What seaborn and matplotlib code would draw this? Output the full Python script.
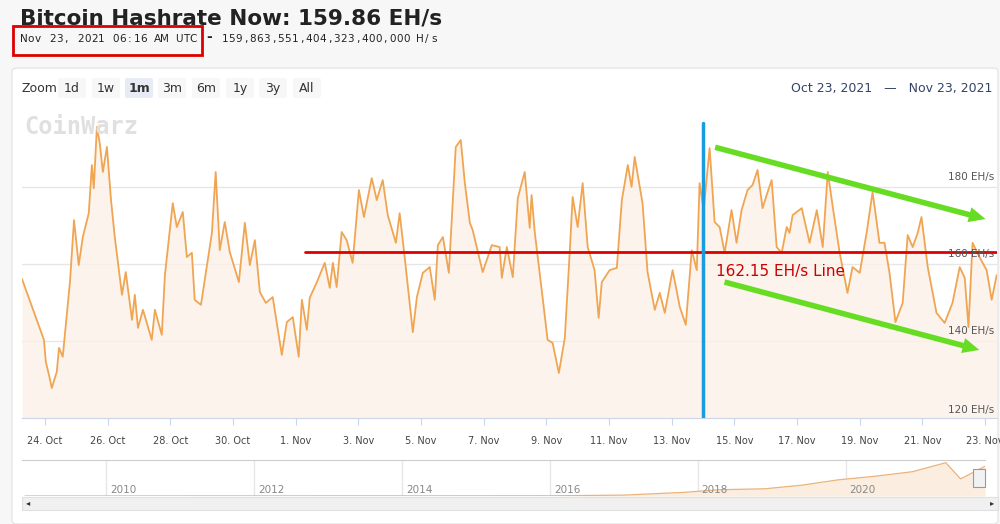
import matplotlib
matplotlib.use('Agg')
import numpy as np
import pandas as pd
import seaborn as sns
import matplotlib.pyplot as plt
from matplotlib.patches import Rectangle, FancyBboxPatch

# days since 24 Oct 2021 00:00 UTC, hashrate in EH/s
days = [-0.73, -0.03, 0.03, 0.13, 0.22, 0.38, 0.45, 0.57, 0.80, 0.93, 1.08, 1.21, 1.40, 1.50,
        1.56, 1.66, 1.75, 1.85, 1.98, 2.11, 2.23, 2.46, 2.58, 2.78, 2.87, 2.97, 3.13, 3.41,
        3.51, 3.73, 3.83, 4.08, 4.21, 4.40, 4.53, 4.69, 4.78, 4.98, 5.14, 5.33, 5.45, 5.58,
        5.74, 5.90, 6.19, 6.38, 6.54, 6.70, 6.86, 7.05, 7.27, 7.56, 7.72, 7.91, 8.10, 8.20,
        8.36, 8.45, 8.68, 8.93, 9.09, 9.19, 9.31, 9.47, 9.63, 9.82, 10.02, 10.18, 10.43, 10.59,
        10.78, 10.94, 11.20, 11.32, 11.48, 11.74, 11.87, 12.06, 12.28, 12.44, 12.54, 12.70,
        12.89, 13.11, 13.27, 13.40, 13.56, 13.65, 13.97, 14.26, 14.51, 14.58, 14.74, 14.93,
        15.09, 15.31, 15.47, 15.53, 15.63, 15.89, 16.04, 16.20, 16.40, 16.59, 16.75, 16.84,
        17.00, 17.16, 17.32, 17.54, 17.67, 17.77, 18.02, 18.25, 18.41, 18.60, 18.72, 18.82,
        19.07, 19.23, 19.46, 19.62, 19.78, 20.03, 20.26, 20.45, 20.64, 20.80, 20.89, 21.02,
        21.21, 21.37, 21.53, 21.69, 21.91, 22.07, 22.23, 22.42, 22.58, 22.74, 22.90, 23.03,
        23.19, 23.35, 23.51, 23.67, 23.76, 23.86, 24.15, 24.40, 24.63, 24.82, 24.98, 25.14,
        25.36, 25.61, 25.77, 26.00, 26.22, 26.41, 26.63, 26.79, 26.95, 27.14, 27.37, 27.53,
        27.69, 27.85, 27.97, 28.17, 28.45, 28.71, 28.96, 29.19, 29.35, 29.47, 29.60, 29.82,
        30.05, 30.21, 30.37]
hashrate = [156.1, 140.3, 134.6, 131.2, 127.8, 132.0, 138.2, 135.9, 155.3, 171.4, 159.7, 167.0,
            173.2, 185.7, 179.7, 195.6, 191.4, 183.9, 190.4, 176.6, 167.0, 152.0, 157.9, 145.5,
            152.0, 143.4, 148.1, 140.3, 148.1, 141.6, 157.1, 175.8, 169.6, 173.5, 161.8, 162.9,
            150.7, 149.4, 157.9, 168.1, 183.9, 163.6, 170.9, 163.1, 155.3, 170.7, 159.7, 166.2,
            152.7, 149.9, 151.4, 136.4, 144.9, 146.2, 135.9, 150.7, 142.9, 151.2, 155.3, 160.3,
            153.8, 160.3, 154.0, 168.3, 166.2, 160.3, 179.2, 172.2, 182.3, 176.6, 181.8, 172.7,
            165.5, 173.2, 161.8, 142.3, 151.4, 157.7, 159.2, 150.7, 164.9, 167.0, 157.7, 190.4,
            192.2, 181.0, 170.7, 168.8, 157.9, 164.9, 164.4, 156.4, 164.4, 156.6, 177.1, 183.9,
            169.4, 177.9, 168.3, 150.7, 140.3, 139.5, 131.7, 140.8, 163.6, 177.4, 169.6, 181.0,
            164.4, 158.4, 146.0, 155.3, 158.4, 159.0, 176.6, 185.7, 180.0, 187.8, 175.8, 157.9,
            148.1, 152.5, 147.3, 158.4, 148.8, 144.2, 163.6, 158.4, 181.0, 174.0, 190.1, 170.9,
            169.6, 162.9, 174.0, 165.5, 174.0, 179.2, 180.5, 184.4, 174.5, 177.9, 181.8, 164.4,
            162.9, 169.6, 168.1, 172.7, 174.5, 165.5, 174.0, 164.4, 183.9, 174.8, 162.9, 152.5,
            159.2, 157.7, 168.1, 178.7, 165.5, 165.5, 157.7, 144.9, 149.9, 167.5, 164.4, 168.1,
            172.2, 159.2, 147.3, 144.7, 149.9, 159.2, 156.4, 143.6, 165.5, 161.8, 158.4, 150.7,
            157.1]

tick_days = list(range(0, 31, 2))
tick_labels = ['24. Oct', '26. Oct', '28. Oct', '30. Oct', '1. Nov', '3. Nov', '5. Nov', '7. Nov',
               '9. Nov', '11. Nov', '13. Nov', '15. Nov', '17. Nov', '19. Nov', '21. Nov', '23. Nov']
y_ticks = [120, 140, 160, 180]

# navigator (full history), year vs EH/s
nav_years = [2008.9, 2016.0, 2017.0, 2017.8, 2018.3, 2018.9, 2019.4, 2019.9, 2020.4, 2020.9,
             2021.35, 2021.55, 2021.88]
nav_vals = [0, 1, 5, 20, 35, 40, 60, 90, 110, 135, 185, 95, 165]
nav_ticks = [2010, 2012, 2014, 2016, 2018, 2020]

line_ref = 163.0
cut_day = 20.99
zoom_btns = ['1d', '1w', '1m', '3m', '6m', '1y', '3y', 'All']

df = pd.DataFrame({'day': days, 'hashrate': hashrate})
sns.set_style('white')

fig = plt.figure(figsize=(10, 5.24), dpi=100)
fig.patch.set_facecolor('#f7f7f7')
W, H = 1000, 524
def fp(x, y):
    return x / W, 1 - y / H

def spaced(x0, x1, y, s, **kw):
    # letter-spaced header text, one glyph per slot
    step = (x1 - x0) / (len(s) - 1)
    for i, c in enumerate(s):
        fig.text(*fp(x0 + i * step, y), c, ha='center', va='center', **kw)

# white chart card
fig.patches.append(FancyBboxPatch(fp(12, 524), 986 / W, 456 / H, boxstyle='round,pad=0,rounding_size=0.006',
                                  transform=fig.transFigure, fc='white', ec='#e6e6e6', lw=1, zorder=-10))

fig.text(*fp(20, 18), 'Bitcoin Hashrate Now: 159.86 EH/s', fontsize=15.5, fontweight='bold',
         color='#222222', va='center', ha='left')
spaced(24, 193, 39, 'Nov 23, 2021 06:16 AM UTC', fontsize=7.5, color='#222222')
fig.patches.append(Rectangle(fp(13, 55), 189 / W, 29 / H, transform=fig.transFigure,
                             fill=False, ec='#dd0000', lw=2))
fig.text(*fp(206, 37), '-', fontsize=10, color='#222222', va='center', ha='left', fontweight='bold')
spaced(225, 434, 39, '159,863,551,404,323,400,000 H/s', fontsize=7.5, color='#222222')

fig.text(*fp(22, 88), 'Zoom', fontsize=9, color='#333333', va='center')
bx = [58, 92, 125, 158, 192, 226, 259, 293]
for b, x in zip(zoom_btns, bx):
    fc = '#e6ebf5' if b == '1m' else '#f7f7f7'
    fig.patches.append(FancyBboxPatch(fp(x, 98), 28 / W, 20 / H, boxstyle='round,pad=0,rounding_size=0.003',
                                      transform=fig.transFigure, fc=fc, ec='none'))
    fig.text(*fp(x + 14, 88), b, fontsize=9, color='#333333', va='center', ha='center',
             fontweight='bold' if b == '1m' else 'normal')
fig.text(*fp(992, 88), 'Oct 23, 2021   \u2014   Nov 23, 2021', fontsize=9, color='#334466',
         va='center', ha='right')

# main chart
ax = fig.add_axes([22 / W, 106 / H, 975 / W, 298 / H])
ax.set_xlim(-0.73, 30.38)
ax.set_ylim(120, 197.4)
ax.fill_between(df['day'], df['hashrate'], 120, color='#fbf1e8', alpha=0.8, lw=0)
sns.lineplot(data=df, x='day', y='hashrate', ax=ax, color='#f0a552', lw=1.3)
for v in y_ticks[1:]:
    ax.axhline(v, color='#e6e6e6', lw=1, zorder=0)
    ax.text(30.3, v + 1.2, '%d EH/s' % v, fontsize=7.5, color='#555555', ha='right', va='bottom')
ax.text(30.3, 120.8, '120 EH/s', fontsize=7.5, color='#555555', ha='right', va='bottom')
ax.set_xticks(tick_days)
ax.set_xticklabels(tick_labels, fontsize=7, color='#444444')
ax.set_yticks([])
ax.set_xlabel('')
ax.set_ylabel('')
ax.tick_params(axis='x', length=5, color='#ccd6eb', pad=8, bottom=True)
for s in ['top', 'right', 'left']:
    ax.spines[s].set_visible(False)
ax.spines['bottom'].set_color('#ccd6eb')

# hand-drawn overlays
ax.plot([8.3, 30.38], [line_ref, line_ref], color='#dd0000', lw=2)
ax.text(21.4, 158.0, '162.15 EH/s Line', fontsize=11, color='#cc0000', ha='left', va='center')
ax.plot([cut_day, cut_day], [120, 196.6], color='#1a9be0', lw=2.5)
arrow = dict(arrowstyle='simple,head_length=1.2,head_width=1.1,tail_width=0.4',
             color='#66dd22', lw=0)
ax.annotate('', xy=(30.1, 171.5), xytext=(21.3, 190.5), arrowprops=arrow)
ax.annotate('', xy=(29.9, 137.5), xytext=(21.6, 155.5), arrowprops=arrow)

# watermark
fig.text(*fp(24, 127), 'CoinWarz', fontsize=17, fontweight='bold', color='#e0e0e0',
         va='center', ha='left', family='DejaVu Sans Mono')

# navigator
nav = fig.add_axes([22 / W, 28 / H, 963 / W, 36 / H])
nav.set_xlim(2008.86, 2021.88)
nav.set_ylim(0, 200)
nav.fill_between(nav_years, nav_vals, 0, color='#fbeee0', lw=0)
nav.plot(nav_years, nav_vals, color='#eab37a', lw=0.9)
for yr in nav_ticks:
    nav.axvline(yr, color='#e6e6e6', lw=1, zorder=0)
    nav.text(yr + 0.05, 35, str(yr), fontsize=7.5, color='#888888', ha='left', va='center')
nav.set_xticks([])
nav.set_yticks([])
for s in ['right', 'left', 'bottom']:
    nav.spines[s].set_visible(False)
nav.spines['top'].set_color('#cccccc')
nav.axvspan(21.78, 21.88, color='#dde3ee', alpha=0.7)

# scrollbar
fig.patches.append(Rectangle(fp(22, 510), 976 / W, 13 / H, transform=fig.transFigure,
                             fc='#f0f0f0', ec='#e0e0e0', lw=0.8))
fig.text(*fp(28, 503), '\u25c2', fontsize=6, color='#333333', va='center', ha='center')
fig.text(*fp(992, 503), '\u25b8', fontsize=6, color='#333333', va='center', ha='center')
fig.patches.append(Rectangle(fp(973, 487), 12 / W, 18 / H, transform=fig.transFigure,
                             fc='#f2f2f2', ec='#999999', lw=0.8))

fig.savefig('out.png', dpi=100, facecolor=fig.get_facecolor())
